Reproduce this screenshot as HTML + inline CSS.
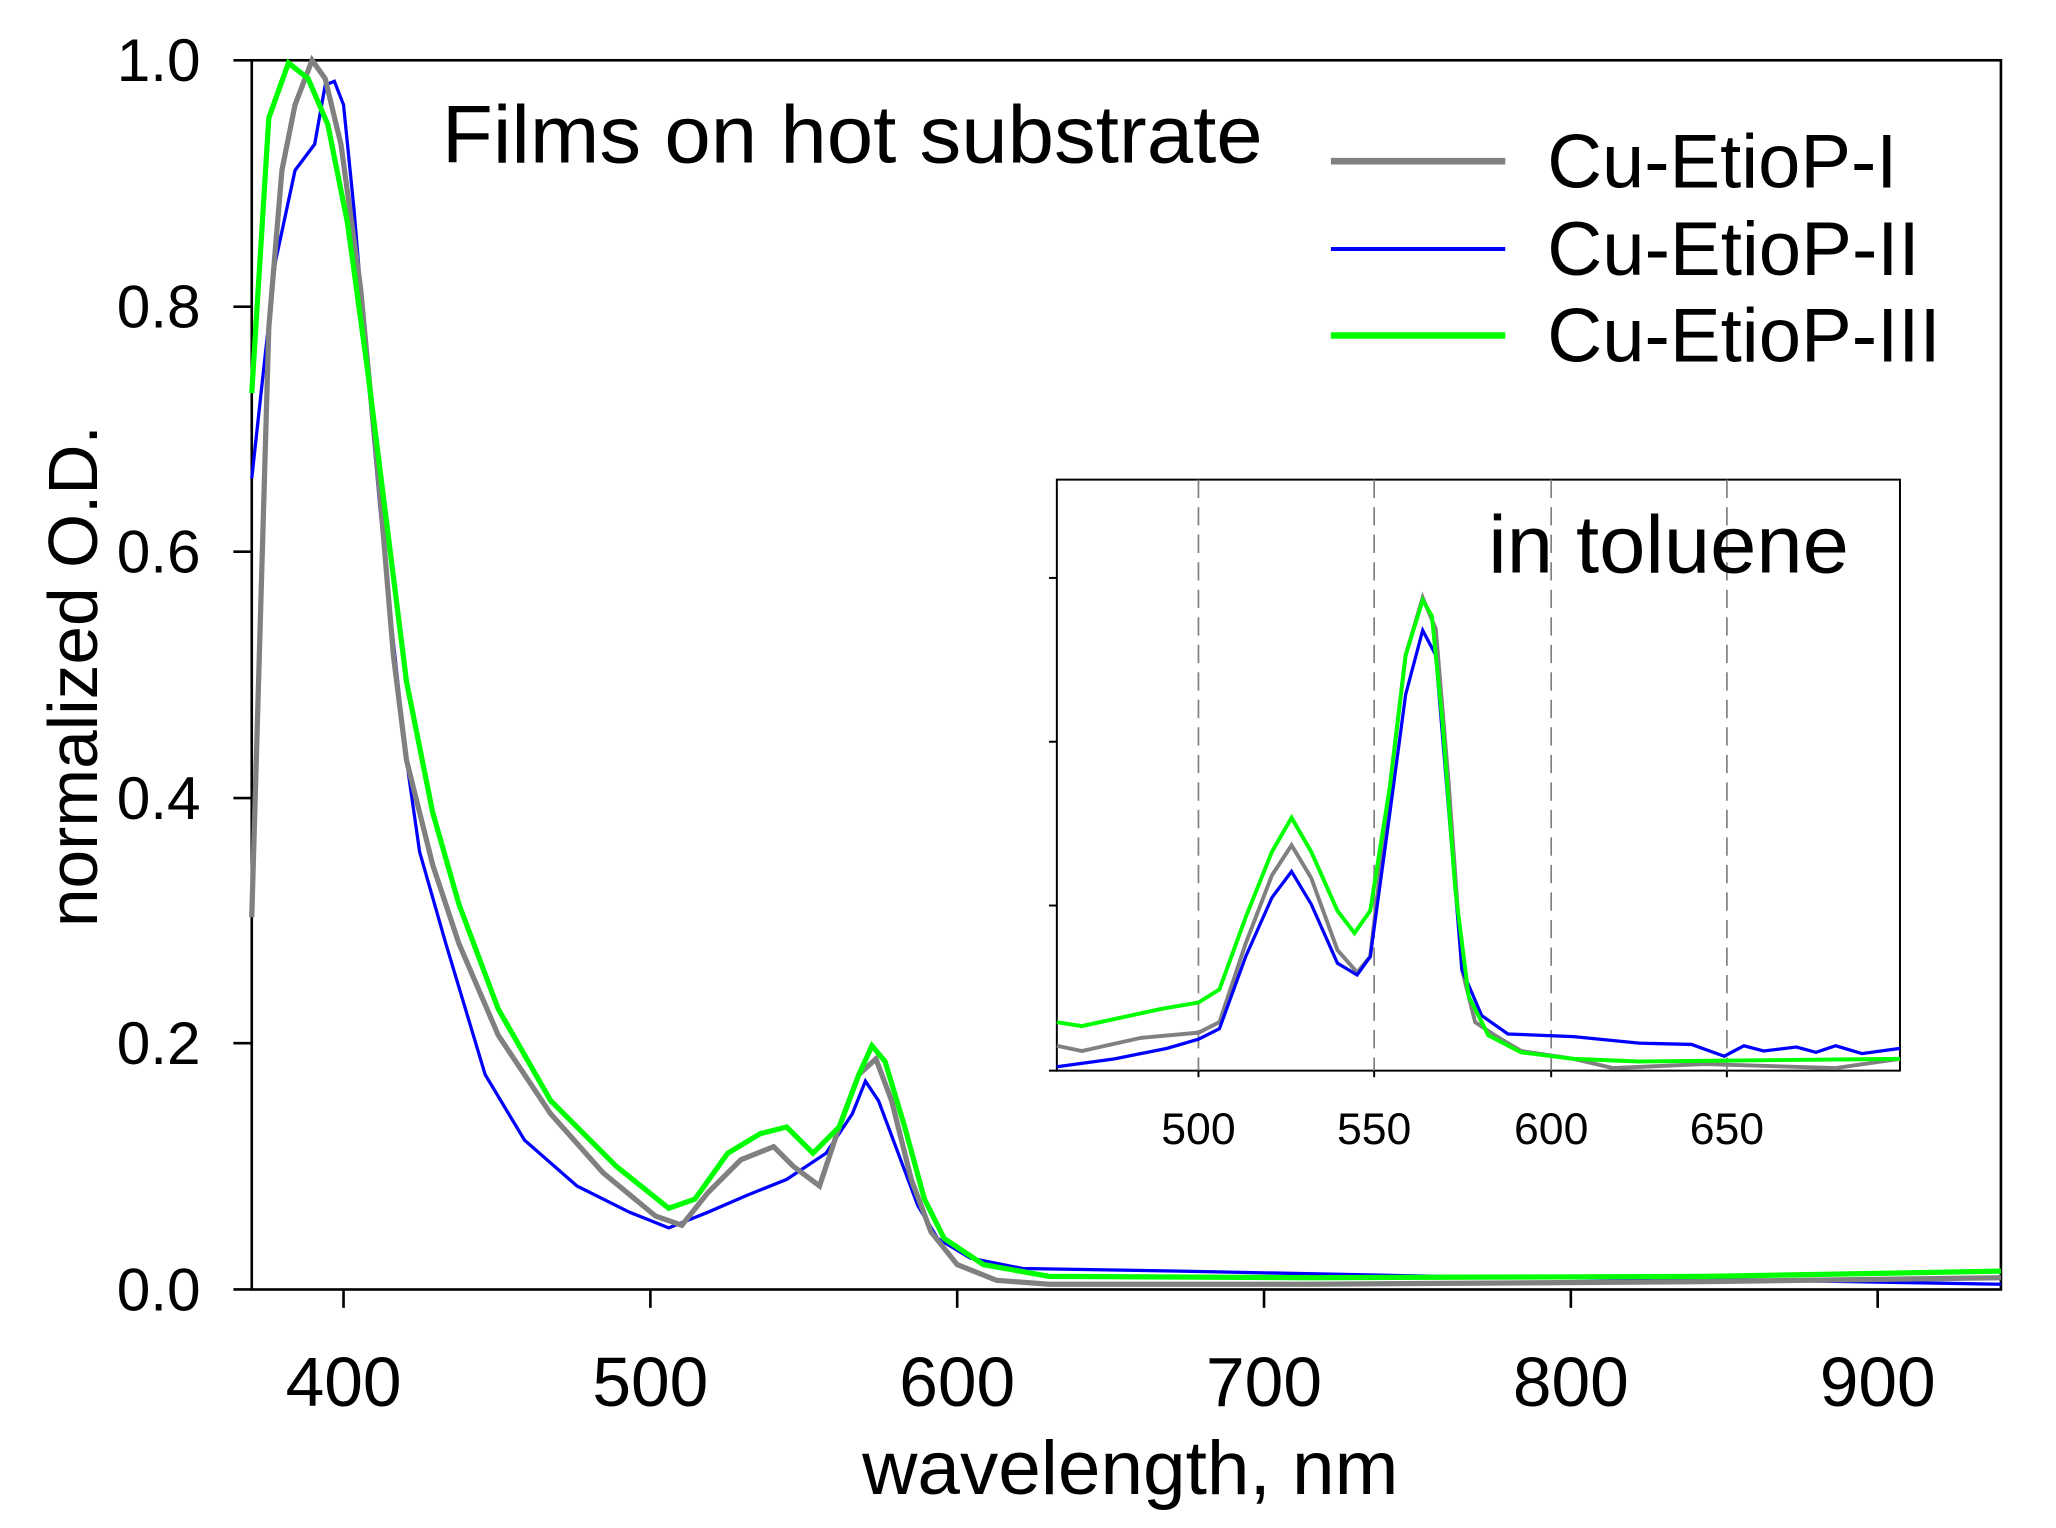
<!DOCTYPE html>
<html><head><style>html,body{margin:0;padding:0;background:#fff}svg{display:block}</style></head>
<body>
<svg width="2056" height="1528" viewBox="0 0 1568 1166" preserveAspectRatio="none" xmlns="http://www.w3.org/2000/svg" font-family="Liberation Sans, Arial, sans-serif">
<rect width="1568" height="1166" fill="#fff"/>
<rect x="192" y="46" width="1334" height="938" fill="none" stroke="#000" stroke-width="2"/>
<g stroke="#000" stroke-width="2">
<line x1="178" y1="46" x2="192" y2="46"/><line x1="178" y1="234" x2="192" y2="234"/><line x1="178" y1="421" x2="192" y2="421"/>
<line x1="178" y1="609" x2="192" y2="609"/><line x1="178" y1="796" x2="192" y2="796"/><line x1="178" y1="984" x2="192" y2="984"/>
<line x1="262" y1="984" x2="262" y2="998"/><line x1="496" y1="984" x2="496" y2="998"/><line x1="730" y1="984" x2="730" y2="998"/>
<line x1="964" y1="984" x2="964" y2="998"/><line x1="1198" y1="984" x2="1198" y2="998"/><line x1="1432" y1="984" x2="1432" y2="998"/>
</g>
<g font-size="46" text-anchor="end" fill="#000">
<text x="153" y="62" textLength="64" lengthAdjust="spacingAndGlyphs">1.0</text><text x="153" y="250" textLength="64" lengthAdjust="spacingAndGlyphs">0.8</text><text x="153" y="437" textLength="64" lengthAdjust="spacingAndGlyphs">0.6</text>
<text x="153" y="625" textLength="64" lengthAdjust="spacingAndGlyphs">0.4</text><text x="153" y="812" textLength="64" lengthAdjust="spacingAndGlyphs">0.2</text><text x="153" y="1000" textLength="64" lengthAdjust="spacingAndGlyphs">0.0</text>
</g>
<g font-size="53" text-anchor="middle" fill="#000">
<text x="262" y="1073">400</text><text x="496" y="1073">500</text><text x="730" y="1073">600</text>
<text x="964" y="1073">700</text><text x="1198" y="1073">800</text><text x="1432" y="1073">900</text>
</g>
<text x="862" y="1140" font-size="58" text-anchor="middle" textLength="409" lengthAdjust="spacingAndGlyphs">wavelength, nm</text>
<text transform="translate(74,516) rotate(-90)" font-size="53" text-anchor="middle" textLength="383" lengthAdjust="spacingAndGlyphs">normalized O.D.</text>
<text x="337" y="124" font-size="62" textLength="626" lengthAdjust="spacingAndGlyphs">Films on hot substrate</text>
<line x1="1015" y1="123" x2="1148" y2="123" stroke="#808080" stroke-width="5"/>
<line x1="1015" y1="190" x2="1148" y2="190" stroke="#0000ff" stroke-width="3"/>
<line x1="1015" y1="256" x2="1148" y2="256" stroke="#00ff00" stroke-width="5"/>
<g font-size="58"><text x="1180" y="143" textLength="267" lengthAdjust="spacingAndGlyphs">Cu-EtioP-I</text><text x="1180" y="210" textLength="284" lengthAdjust="spacingAndGlyphs">Cu-EtioP-II</text><text x="1180" y="276" textLength="300" lengthAdjust="spacingAndGlyphs">Cu-EtioP-III</text></g>
<polyline fill="none" stroke="#0000ff" stroke-width="2.5" points="192,365 210,200 225,130 240,110 248,65 255,62 262,80 270,160 280,280 290,390 300,490 310,580 320,650 340,720 370,820 400,870 440,905 480,925 510,937 540,925 570,912 600,900 630,880 650,850 660,825 670,840 685,880 700,920 715,945 740,960 780,968 900,970 1100,974 1300,976 1526,980"/>
<polyline fill="none" stroke="#808080" stroke-width="4" points="192,700 205,250 215,130 225,80 238,46 248,60 260,110 275,220 290,380 300,500 310,580 330,660 350,720 380,790 420,850 460,895 500,928 520,935 540,910 565,885 590,875 605,890 625,905 640,860 655,820 668,808 680,840 695,900 710,940 730,965 760,977 800,980 1000,980 1300,978 1526,975"/>
<polyline fill="none" stroke="#00ff00" stroke-width="4" points="192,300 205,90 220,48 235,60 250,95 265,170 280,280 295,400 310,520 330,620 350,690 380,770 420,840 470,890 510,922 530,915 555,880 580,865 600,860 620,880 640,860 655,820 665,798 675,810 690,860 705,915 720,945 750,965 800,974 1000,975 1300,974 1526,970"/>
<rect x="806" y="366" width="643" height="451" fill="#fff" stroke="#000" stroke-width="1.5"/>
<line x1="800" y1="817" x2="806" y2="817" stroke="#000" stroke-width="1.5"/>
<g stroke="#808080" stroke-width="1.3" stroke-dasharray="14,7">
<line x1="914" y1="366" x2="914" y2="817"/><line x1="1048" y1="366" x2="1048" y2="817"/>
<line x1="1183" y1="366" x2="1183" y2="817"/><line x1="1317" y1="366" x2="1317" y2="817"/>
</g>
<g stroke="#000" stroke-width="1.5"><line x1="800" y1="441" x2="806" y2="441"/><line x1="800" y1="566" x2="806" y2="566"/><line x1="800" y1="691" x2="806" y2="691"/>
<line x1="914" y1="817" x2="914" y2="822"/><line x1="1048" y1="817" x2="1048" y2="822"/><line x1="1183" y1="817" x2="1183" y2="822"/><line x1="1317" y1="817" x2="1317" y2="822"/></g>
<g font-size="34" text-anchor="middle"><text x="914" y="873">500</text><text x="1048" y="873">550</text><text x="1183" y="873">600</text><text x="1317" y="873">650</text></g>
<text x="1135" y="437" font-size="62" textLength="275" lengthAdjust="spacingAndGlyphs">in toluene</text>
<polyline fill="none" stroke="#808080" stroke-width="3" points="806,798 825,802 870,792 914,788 930,780 950,720 970,668 985,645 1000,670 1020,725 1035,742 1045,730 1060,600 1072,500 1085,456 1095,480 1105,600 1115,740 1125,780 1140,790 1160,802 1200,808 1230,815 1300,812 1400,815 1449,808"/>
<polyline fill="none" stroke="#0000ff" stroke-width="2.5" points="806,814 850,808 890,800 914,793 930,785 950,730 970,685 985,665 1000,690 1020,735 1035,744 1045,730 1060,620 1072,530 1085,481 1095,500 1105,620 1115,740 1130,775 1150,789 1200,791 1250,796 1290,797 1315,806 1330,798 1345,802 1370,799 1385,803 1400,798 1420,804 1449,800"/>
<polyline fill="none" stroke="#00ff00" stroke-width="3" points="806,780 825,783 885,770 914,765 930,755 950,700 970,650 985,624 1000,650 1020,695 1033,712 1045,695 1060,600 1072,500 1085,458 1092,470 1100,550 1110,680 1120,760 1135,790 1160,803 1200,808 1250,810 1449,808"/>
</svg>
</body></html>
